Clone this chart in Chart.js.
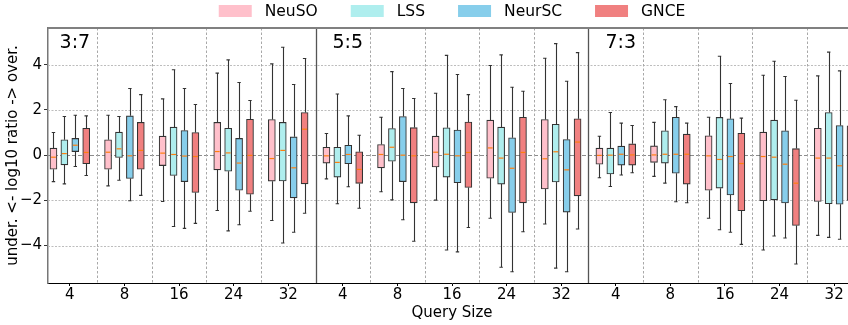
<!DOCTYPE html>
<html>
<head>
<meta charset="utf-8">
<script src="https://cdn.jsdelivr.net/npm/chart.js@4/dist/chart.umd.min.js"></script>
<style>
  html, body { margin: 0; padding: 0; overflow: hidden; background: #fff; }
</style>
</head>
<body>
<canvas id="box-chart" width="904" height="325"></canvas>
<script>
'use strict';

// 軸ラベル
const ratios = ["3:7", "5:5", "7:3"];
const query_sizes = [4, 8, 16, 24, 32];
const y_ticks = [-4, -2, 0, 2, 4];

// 各箱: [下ひげ, Q1, 中央値, Q3, 上ひげ]  (3:7 → 5:5 → 7:3, 各 4,8,16,24,32)
const neuso = [
  [-1.17, -0.62, -0.09, 0.31, 1.00], [-1.36, -0.62, 0.13, 0.68, 1.77], [-2.05, -0.46, 0.09, 0.84, 2.49],
  [-2.45, -0.65, 0.16, 1.45, 3.63], [-2.89, -1.15, -0.15, 1.58, 4.04],
  [-1.05, -0.35, -0.03, 0.35, 0.96], [-1.62, -0.56, 0.03, 0.47, 1.68], [-1.99, -0.52, 0.13, 0.84, 2.74],
  [-2.79, -1.02, 0.32, 1.55, 3.97], [-3.05, -1.50, -0.16, 1.58, 4.29],
  [-1.00, -0.40, -0.01, 0.31, 0.84], [-0.94, -0.32, 0.01, 0.41, 1.45], [-2.79, -1.55, -0.03, 0.86, 1.68],
  [-4.20, -2.02, -0.06, 1.02, 3.54], [-3.55, -2.05, -0.13, 1.19, 3.51]
];
const lss = [
  [-1.27, -0.43, 0.07, 0.68, 1.71], [-1.11, -0.10, 0.28, 1.02, 1.71], [-3.16, -0.90, 0.03, 1.24, 3.78],
  [-3.35, -0.71, 0.10, 1.19, 4.22], [-3.89, -1.14, 0.21, 1.45, 4.78],
  [-2.15, -0.97, -0.32, 0.35, 2.71], [-1.98, -0.27, 0.35, 1.18, 3.70], [-4.20, -0.97, 0.04, 1.21, 4.42],
  [-4.96, -1.28, -0.13, 1.24, 4.44], [-5.00, -1.19, 0.15, 1.37, 4.94],
  [-1.39, -0.83, 0.00, 0.31, 1.89], [-1.24, -0.35, 0.04, 1.08, 2.45], [-3.30, -1.46, -0.19, 1.67, 4.38],
  [-3.58, -1.98, -0.09, 1.55, 4.16], [-3.64, -2.15, -0.13, 1.89, 4.56]
];
const neursc = [
  [-0.50, 0.16, 0.44, 0.74, 1.77], [-2.02, -1.03, -0.03, 1.74, 2.95], [-3.24, -1.17, -0.04, 1.09, 2.95],
  [-3.08, -1.55, -0.35, 0.74, 3.22], [-3.41, -1.89, -0.56, 0.81, 3.13],
  [-1.40, -0.38, 0.03, 0.44, 1.74], [-2.86, -1.17, 0.00, 1.71, 2.95], [-4.28, -1.22, -0.03, 1.11, 3.57],
  [-5.16, -2.54, -0.58, 0.77, 3.01], [-5.16, -2.52, -0.65, 0.69, 3.27],
  [-0.88, -0.44, 0.04, 0.40, 1.42], [-2.06, -0.80, 0.04, 1.68, 2.15], [-3.41, -1.76, -0.06, 1.61, 3.17],
  [-3.67, -2.12, -0.40, 1.08, 3.48], [-3.72, -2.17, -0.47, 1.31, 3.73]
];
const gnce = [
  [-0.90, -0.38, 0.12, 1.19, 1.74], [-1.78, -0.62, 0.21, 1.45, 2.68], [-3.02, -1.65, -0.06, 1.00, 2.24],
  [-2.48, -1.73, -0.01, 1.59, 2.42], [-2.57, -1.27, 1.15, 1.89, 4.28],
  [-2.35, -1.25, -0.63, 0.15, 0.88], [-3.81, -2.11, -0.03, 1.22, 2.51], [-3.20, -1.43, 0.12, 1.47, 2.68],
  [-3.39, -2.11, 0.12, 1.68, 2.83], [-3.27, -1.80, 0.58, 1.61, 4.54],
  [-0.78, -0.44, 0.01, 0.50, 1.31], [-2.11, -1.28, 0.04, 0.93, 1.42], [-3.95, -2.46, -0.37, 0.97, 1.64],
  [-4.82, -3.11, -1.24, 0.29, 2.43], [-3.40, -2.00, -0.30, 1.30, 3.40]
];

const methods = ["NeuSO", "LSS", "NeurSC", "GNCE"];
const method_data = [neuso, lss, neursc, gnce];
const colors = ["#ffc0cb", "#afeeee", "#87ceeb", "#f08080"];
const offsets = [-0.3, -0.1, 0.1, 0.3];
const BOX_W = 0.125;
const FONT = "'DejaVu Sans', sans-serif";

// 箱 (Q1-Q3) は浮動棒グラフで描く
const datasets = method_data.map((rows, m) => ({
  label: methods[m],
  data: rows.map((r, i) => ({ x: i + offsets[m], y: [r[1], r[3]] })),
  backgroundColor: colors[m],
  borderColor: "#333",
  borderWidth: 1.1,
  borderSkipped: false,
  barThickness: 7,
  grouped: false,
}));

// 凡例・グリッド・区切り線・パネル名
const decorPlugin = {
  id: "decor",
  beforeDatasetsDraw(chart) {
    const { ctx, chartArea: a, scales: { x, y } } = chart;
    ctx.save();
    // 横グリッド
    for (const v of y_ticks) {
      const py = Math.round(y.getPixelForValue(v)) + 0.5;
      ctx.beginPath();
      if (v === 0) { ctx.strokeStyle = "#8c8c8c"; ctx.lineWidth = 1.2; ctx.setLineDash([4, 2]); }
      else { ctx.strokeStyle = "#bdbdbd"; ctx.lineWidth = 1; ctx.setLineDash([2, 1.5]); }
      ctx.moveTo(a.left, py); ctx.lineTo(a.right, py); ctx.stroke();
    }
    // 縦区切り
    for (let g = 0; g < 14; g++) {
      const px = Math.round(x.getPixelForValue(g + 0.5)) + 0.5;
      ctx.beginPath();
      if ((g + 1) % 5 === 0) { ctx.strokeStyle = "#555"; ctx.lineWidth = 1.3; ctx.setLineDash([]); }
      else { ctx.strokeStyle = "#a8a8a8"; ctx.lineWidth = 1; ctx.setLineDash([2.5, 2]); }
      ctx.moveTo(px, a.top); ctx.lineTo(px, a.bottom); ctx.stroke();
    }
    ctx.setLineDash([]);
    // 上枠
    ctx.strokeStyle = "#808080"; ctx.lineWidth = 2;
    ctx.beginPath(); ctx.moveTo(a.left, a.top); ctx.lineTo(a.right, a.top); ctx.stroke();
    // パネル名
    ctx.fillStyle = "#000";
    ctx.font = "19px " + FONT;
    ctx.textBaseline = "top";
    ctx.textAlign = "left";
    ratios.forEach((t, i) => {
      ctx.fillText(t, x.getPixelForValue(i * 5 - 0.5) + 17, a.top + 6);
    });
    // 凡例
    ctx.font = "15.5px " + FONT;
    ctx.textBaseline = "middle";
    const widths = methods.map(t => 33 + 13 + ctx.measureText(t).width);
    const gap = 33;
    const total = widths.reduce((s, w) => s + w, 0) + gap * (methods.length - 1);
    let lx = (a.left + a.right) / 2 - total / 2;
    methods.forEach((t, m) => {
      ctx.fillStyle = colors[m];
      ctx.fillRect(lx, 5, 33, 12);
      ctx.fillStyle = "#000";
      ctx.fillText(t, lx + 46, 11.5);
      lx += widths[m] + gap;
    });
    ctx.restore();
  },
  afterDatasetsDraw(chart) {
    const { ctx, scales: { x, y } } = chart;
    ctx.save();
    method_data.forEach((rows, m) => {
      rows.forEach((r, i) => {
        const cx = i + offsets[m];
        const px = Math.round(x.getPixelForValue(cx)) + 0.5;
        const capL = x.getPixelForValue(cx - BOX_W / 4);
        const capR = x.getPixelForValue(cx + BOX_W / 4);
        ctx.strokeStyle = "#333"; ctx.lineWidth = 1.1;
        ctx.beginPath();
        ctx.moveTo(px, y.getPixelForValue(r[3])); ctx.lineTo(px, y.getPixelForValue(r[4]));
        ctx.moveTo(px, y.getPixelForValue(r[1])); ctx.lineTo(px, y.getPixelForValue(r[0]));
        ctx.moveTo(capL, y.getPixelForValue(r[4])); ctx.lineTo(capR, y.getPixelForValue(r[4]));
        ctx.moveTo(capL, y.getPixelForValue(r[0])); ctx.lineTo(capR, y.getPixelForValue(r[0]));
        ctx.stroke();
        // 中央値
        ctx.strokeStyle = "#ff7f0e"; ctx.lineWidth = 1.2;
        ctx.beginPath();
        ctx.moveTo(x.getPixelForValue(cx - BOX_W / 2) + 1, y.getPixelForValue(r[2]));
        ctx.lineTo(x.getPixelForValue(cx + BOX_W / 2) - 1, y.getPixelForValue(r[2]));
        ctx.stroke();
      });
    });
    ctx.restore();
  }
};

const ctx = document.querySelector("#box-chart").getContext("2d");
new Chart(ctx, {
  type: "bar",
  data: { datasets: datasets },
  plugins: [decorPlugin],
  options: {
    responsive: false,
    animation: false,
    devicePixelRatio: 1,
    layout: { padding: { top: 28, left: 0, right: 0, bottom: 0 } },
    plugins: {
      tooltip: { enabled: false },
      legend: { display: false },
    },
    scales: {
      x: {
        type: "linear",
        offset: false,
        min: -0.4,
        max: 14.4,
        afterBuildTicks: (s) => { s.ticks = query_sizes.concat(query_sizes, query_sizes).map((q, i) => ({ value: i })); },
        afterFit: (s) => { s.height = 42; },
        ticks: {
          color: "#000",
          padding: 0,
          font: { family: FONT, size: 15 },
          callback: (v, i) => String(query_sizes[i % 5]),
          maxRotation: 0,
          autoSkip: false,
        },
        grid: { drawOnChartArea: false, offset: false, tickLength: 3, color: "#000" },
        border: { color: "#000", width: 1 },
        title: { display: true, text: "Query Size", color: "#000", font: { family: FONT, size: 15 }, padding: { top: 0, bottom: 3 } },
      },
      y: {
        min: -5.66,
        max: 5.63,
        afterBuildTicks: (s) => { s.ticks = y_ticks.map(v => ({ value: v })); },
        afterFit: (s) => { s.width = 48; },
        ticks: {
          color: "#000",
          padding: 2,
          font: { family: FONT, size: 15 },
          callback: (v) => (v < 0 ? "\u2212" + Math.abs(v) : String(v)),
        },
        grid: { drawOnChartArea: false, tickLength: 4, color: "#333" },
        border: { color: "#777", width: 1.5 },
        title: { display: true, text: "under. <- log10 ratio -> over.", color: "#000", font: { family: FONT, size: 15 }, padding: { top: 4, bottom: 0 } },
      },
      yr: {
        position: "right",
        afterFit: (s) => { s.width = 48; },
        ticks: { display: false },
        grid: { display: false },
        border: { color: "#777", width: 1.5 },
      },
    },
  },
});
</script>
</body>
</html>
